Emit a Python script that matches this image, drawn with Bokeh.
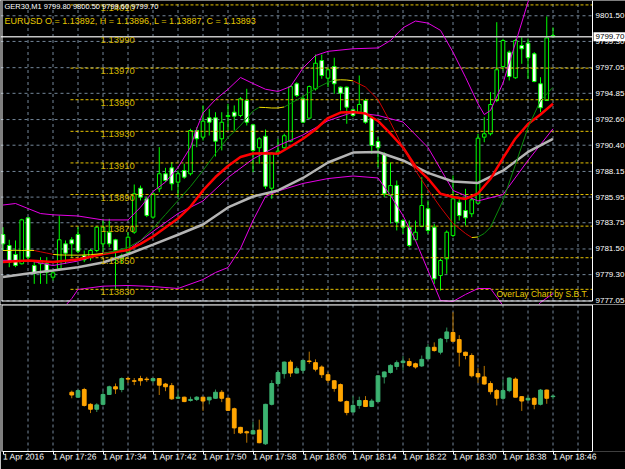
from bokeh.plotting import figure
from bokeh.layouts import column
from bokeh.models import Range1d, FixedTicker, Label
from bokeh.core.properties import value
from bokeh.embed import file_html
from bokeh.resources import INLINE

# ---------------- data ----------------
bars = list(range(89))  # M1 bars, 17:18 .. 18:46
ger_open = [9782.74, 9781.80, 9781.03, 9780.23, 9784.17, 9780.08, 9780.23, 9780.23, 9779.08, 9779.80,
            9781.94, 9782.29, 9782.74, 9780.94, 9780.80, 9781.37, 9781.94, 9782.94, 9782.29, 9780.66,
            9781.22, 9782.94, 9786.71, 9785.80, 9784.23, 9786.66, 9787.95, 9788.46, 9787.23, 9788.23,
            9787.95, 9791.66, 9791.09, 9792.75, 9792.75, 9790.95, 9792.86, 9793.23, 9792.95, 9794.23,
            9792.15, 9790.18, 9791.17, 9786.71, 9789.72, 9790.18, 9790.74, 9795.67, 9794.38, 9792.72,
            9795.24, 9797.66, 9796.15, 9797.15, 9795.38, 9795.38, 9793.44, 9793.23, 9794.23, 9792.75,
            9790.72, 9789.66, 9786.09, 9786.94, 9783.94, 9783.37, 9782.29, 9783.43, 9784.95, 9783.37,
            9779.23, 9780.66, 9782.66, 9785.51, 9784.80, 9784.52, 9785.43, 9791.09, 9791.38, 9794.23,
            9797.15, 9798.38, 9796.18, 9798.95, 9799.15, 9798.24, 9795.67, 9794.23, 9799.80]
ger_high = [9783.37, 9782.29, 9782.23, 9784.09, 9784.23, 9780.51, 9780.80, 9780.80, 9779.66, 9784.37,
            9782.23, 9782.51, 9783.37, 9781.37, 9781.52, 9783.43, 9784.09, 9784.09, 9782.37, 9781.09,
            9782.94, 9787.03, 9786.94, 9785.94, 9786.28, 9790.23, 9788.46, 9788.94, 9788.23, 9788.81,
            9791.81, 9791.95, 9793.81, 9793.52, 9793.23, 9793.23, 9793.95, 9793.81, 9794.52, 9795.24,
            9792.24, 9791.09, 9791.75, 9789.80, 9790.95, 9791.38, 9795.52, 9795.80, 9794.66, 9795.52,
            9798.18, 9798.18, 9797.09, 9797.90, 9795.43, 9795.43, 9793.52, 9796.38, 9794.38, 9792.95,
            9791.09, 9789.80, 9788.92, 9787.37, 9784.09, 9783.94, 9783.94, 9787.66, 9785.66, 9783.66,
            9780.66, 9783.09, 9787.80, 9785.94, 9786.66, 9785.94, 9791.38, 9792.80, 9794.95, 9800.95,
            9799.53, 9798.52, 9799.53, 9799.66, 9799.55, 9798.38, 9796.23, 9801.44, 9800.50]
ger_low = [9781.37, 9779.94, 9779.94, 9780.17, 9780.51, 9778.51, 9778.51, 9778.51, 9778.80, 9779.66,
           9780.23, 9780.80, 9781.14, 9780.37, 9780.51, 9781.22, 9781.22, 9781.65, 9778.09, 9780.23,
           9781.09, 9782.80, 9785.66, 9784.23, 9784.09, 9786.37, 9787.23, 9786.52, 9785.94, 9787.52,
           9787.80, 9790.23, 9790.80, 9791.23, 9789.43, 9789.95, 9791.66, 9791.66, 9792.80, 9792.09,
           9788.09, 9788.81, 9786.66, 9785.80, 9789.52, 9790.09, 9790.66, 9794.52, 9792.29, 9792.66,
           9795.09, 9796.10, 9795.38, 9794.81, 9793.38, 9792.24, 9792.80, 9793.09, 9792.24, 9789.66,
           9788.51, 9785.94, 9783.69, 9783.09, 9782.80, 9781.65, 9782.23, 9783.37, 9782.80, 9778.51,
           9777.94, 9779.37, 9782.51, 9783.94, 9783.51, 9784.23, 9785.38, 9790.66, 9791.23, 9794.09,
           9796.81, 9795.95, 9796.10, 9797.38, 9796.10, 9795.80, 9793.23, 9794.23, 9799.60]
ger_close = [9781.94, 9780.37, 9780.08, 9784.00, 9780.80, 9779.42, 9780.51, 9779.51, 9779.46, 9782.29,
             9781.14, 9781.94, 9781.31, 9780.57, 9781.37, 9783.37, 9783.37, 9781.94, 9781.37, 9780.94,
             9782.51, 9786.23, 9785.94, 9784.37, 9786.23, 9787.95, 9787.37, 9787.09, 9787.95, 9787.66,
             9791.66, 9790.95, 9792.46, 9792.37, 9790.74, 9792.37, 9792.95, 9792.89, 9794.38, 9792.37,
             9789.95, 9790.95, 9786.88, 9789.72, 9789.89, 9791.21, 9795.43, 9794.66, 9792.37, 9795.43,
             9797.43, 9796.38, 9796.87, 9795.67, 9794.86, 9793.66, 9792.95, 9793.89, 9792.37, 9790.38,
             9790.18, 9786.23, 9786.94, 9783.80, 9783.37, 9781.80, 9782.94, 9785.23, 9783.09, 9778.94,
             9780.51, 9782.94, 9785.80, 9784.37, 9784.17, 9785.72, 9791.00, 9791.38, 9793.89, 9796.87,
             9799.38, 9796.29, 9799.38, 9798.67, 9797.90, 9795.86, 9793.61, 9799.60, 9799.70]

# indicator lines (read at sample bars)
ma_red_bars = [0, 4, 8, 12, 16, 20] + list(range(22, 89, 2))
ma_red_vals = [9780.38, 9780.51, 9780.38, 9780.60, 9781.07, 9781.41, 9781.94, 9782.57, 9783.34, 9784.11,
               9785.14, 9786.52, 9787.67, 9788.62, 9789.39, 9789.69, 9789.71, 9789.67, 9790.29, 9790.95,
               9791.75, 9792.73, 9793.20, 9793.25, 9793.12, 9792.48, 9791.40, 9790.20, 9788.57, 9787.54,
               9786.23, 9785.96, 9785.79, 9786.26, 9787.52, 9789.30, 9790.98, 9792.22, 9793.03, 9793.95]
ma_gray_bars = list(range(0, 89, 4))
ma_gray_vals = [9779.10, 9779.40, 9779.65, 9779.93, 9780.34, 9781.05, 9781.88, 9782.72, 9783.60, 9785.06,
                9786.00, 9786.52, 9787.59, 9788.92, 9789.77, 9789.82, 9789.09, 9788.03, 9787.29, 9787.16,
                9788.21, 9789.82, 9790.95]
bb_up_bars = [0, 2, 4, 6, 8, 12, 16, 20, 22, 24, 26, 28, 30, 31, 32, 34, 36, 38, 40, 42, 44, 46, 48, 50,
              52, 56, 60, 62, 64, 66, 68, 70, 72, 74, 76, 77, 78, 80, 82, 84, 86, 88]
bb_up_vals = [9785.27, 9785.40, 9784.97, 9784.54, 9784.43, 9784.33, 9783.99, 9783.99, 9785.08, 9786.43,
              9787.24, 9788.49, 9790.23, 9791.83, 9793.16, 9794.32, 9795.20, 9796.21, 9795.69, 9795.20,
              9795.01, 9795.43, 9797.02, 9798.09, 9798.45, 9798.67, 9798.74, 9799.38, 9800.47, 9801.05,
              9800.87, 9800.25, 9798.38, 9796.23, 9793.95, 9793.03, 9793.38, 9795.73, 9799.17, 9802.68,
              9805.38, 9807.53]
bb_mid_bars = list(range(0, 89, 4))
bb_mid_vals = [9780.53, 9780.51, 9780.08, 9780.47, 9781.11, 9781.41, 9783.00, 9784.54, 9785.62, 9787.63,
               9789.22, 9790.36, 9791.28, 9792.50, 9793.23, 9792.95, 9792.39, 9790.20, 9786.52, 9785.62,
               9786.17, 9789.09, 9791.81]
bb_low_bars = [0, 4, 8, 10, 11, 12, 16, 20, 24, 28, 32, 34, 36, 38, 40, 42, 44, 48, 52, 56, 60] + list(range(62, 89, 2))
bb_low_vals = [9775.80, 9775.54, 9775.71, 9776.65, 9777.25, 9778.03, 9778.31, 9778.37, 9778.28, 9778.11,
               9778.88, 9779.48, 9779.91, 9781.54, 9783.94, 9786.00, 9786.47, 9787.12, 9787.54, 9787.76,
               9787.59, 9786.09, 9784.37, 9782.23, 9779.65, 9777.08, 9777.00, 9777.60, 9778.11, 9778.11,
               9776.65, 9775.80, 9775.80, 9776.91, 9777.68]
thin_bars = list(range(0, 11)) + list(range(12, 41, 2)) + [41, 42, 43, 44, 45, 46, 48, 50, 52, 53, 54, 55, 56,
             58, 60, 62, 64, 66, 68, 70, 72, 74, 75, 76, 77, 78, 80, 82, 84, 86, 88]
thin_vals = [9781.37, 9781.37, 9781.39, 9781.37, 9781.38, 9781.37, 9781.26, 9781.15, 9781.04, 9780.99,
             9780.98, 9780.97, 9781.01, 9781.11, 9781.33, 9781.63, 9782.23, 9783.26, 9784.46, 9785.66,
             9786.86, 9788.23, 9789.69, 9791.06, 9792.09, 9793.33, 9793.65, 9793.63, 9793.59, 9793.59,
             9793.68, 9793.98, 9794.58, 9795.26, 9795.79, 9795.98, 9796.01, 9795.99, 9795.92, 9795.39,
             9794.32, 9792.35, 9790.20, 9788.23, 9786.60, 9785.08, 9783.69, 9782.83, 9782.48, 9782.53,
             9782.83, 9783.37, 9785.66, 9788.75, 9791.92, 9794.23, 9795.37]

eur_levels = [1.14010, 1.13990, 1.13970, 1.13950, 1.13930, 1.13910, 1.13890, 1.13870, 1.13850, 1.13830]
bid_price = 9799.70

eur_bars = list(range(11, 89))
eur_open = [1.13900, 1.13891, 1.13905, 1.13878, 1.13869, 1.13878, 1.13896, 1.13910, 1.13905, 1.13925,
            1.13921, 1.13925, 1.13924, 1.13921, 1.13925, 1.13915, 1.13912, 1.13889, 1.13891, 1.13885,
            1.13887, 1.13891, 1.13886, 1.13889, 1.13900, 1.13889, 1.13870, 1.13836, 1.13828, 1.13824,
            1.13831, 1.13806, 1.13878, 1.13916, 1.13934, 1.13955, 1.13935, 1.13940, 1.13957, 1.13954,
            1.13946, 1.13932, 1.13921, 1.13914, 1.13883, 1.13864, 1.13876, 1.13885, 1.13874, 1.13883,
            1.13928, 1.13936, 1.13947, 1.13954, 1.13956, 1.13952, 1.13948, 1.13961, 1.13982, 1.13973,
            1.13998, 1.14009, 1.13996, 1.13973, 1.13967, 1.13934, 1.13928, 1.13916, 1.13903, 1.13889,
            1.13903, 1.13924, 1.13892, 1.13886, 1.13889, 1.13878, 1.13904, 1.13892]
eur_high = [1.13903, 1.13905, 1.13908, 1.13880, 1.13880, 1.13902, 1.13912, 1.13916, 1.13927, 1.13928,
            1.13926, 1.13930, 1.13928, 1.13925, 1.13925, 1.13917, 1.13917, 1.13903, 1.13892, 1.13892,
            1.13893, 1.13891, 1.13891, 1.13905, 1.13904, 1.13891, 1.13872, 1.13837, 1.13830, 1.13846,
            1.13850, 1.13879, 1.13922, 1.13940, 1.13956, 1.13959, 1.13947, 1.13959, 1.13974, 1.13960,
            1.13949, 1.13937, 1.13922, 1.13916, 1.13885, 1.13893, 1.13892, 1.13893, 1.13888, 1.13931,
            1.13938, 1.13951, 1.13958, 1.13966, 1.13962, 1.13954, 1.13967, 1.13988, 1.13991, 1.13999,
            1.14018, 1.14046, 1.14004, 1.13974, 1.13971, 1.13944, 1.13948, 1.13920, 1.13906, 1.13923,
            1.13927, 1.13927, 1.13893, 1.13894, 1.13891, 1.13906, 1.13905, 1.13896]
eur_low = [1.13889, 1.13890, 1.13874, 1.13862, 1.13864, 1.13876, 1.13895, 1.13897, 1.13900, 1.13917,
           1.13913, 1.13912, 1.13919, 1.13917, 1.13895, 1.13902, 1.13886, 1.13888, 1.13882, 1.13883,
           1.13884, 1.13866, 1.13878, 1.13888, 1.13882, 1.13866, 1.13824, 1.13824, 1.13808, 1.13823,
           1.13807, 1.13804, 1.13876, 1.13910, 1.13925, 1.13928, 1.13934, 1.13934, 1.13952, 1.13938,
           1.13926, 1.13917, 1.13901, 1.13883, 1.13858, 1.13863, 1.13870, 1.13873, 1.13873, 1.13882,
           1.13916, 1.13934, 1.13941, 1.13940, 1.13946, 1.13943, 1.13946, 1.13960, 1.13974, 1.13969,
           1.13991, 1.13993, 1.13947, 1.13960, 1.13927, 1.13917, 1.13914, 1.13896, 1.13876, 1.13886,
           1.13900, 1.13891, 1.13866, 1.13884, 1.13869, 1.13876, 1.13879, 1.13887]
eur_close = [1.13895, 1.13903, 1.13876, 1.13869, 1.13877, 1.13896, 1.13910, 1.13906, 1.13925, 1.13924,
             1.13920, 1.13921, 1.13923, 1.13925, 1.13913, 1.13910, 1.13888, 1.13891, 1.13883, 1.13887,
             1.13891, 1.13884, 1.13891, 1.13900, 1.13889, 1.13867, 1.13835, 1.13826, 1.13826, 1.13830,
             1.13808, 1.13878, 1.13916, 1.13936, 1.13955, 1.13935, 1.13943, 1.13958, 1.13956, 1.13942,
             1.13932, 1.13922, 1.13907, 1.13884, 1.13863, 1.13876, 1.13885, 1.13874, 1.13884, 1.13930,
             1.13937, 1.13949, 1.13954, 1.13957, 1.13949, 1.13946, 1.13960, 1.13982, 1.13976, 1.13997,
             1.14010, 1.13993, 1.13973, 1.13967, 1.13930, 1.13928, 1.13915, 1.13901, 1.13889, 1.13903,
             1.13926, 1.13891, 1.13884, 1.13889, 1.13878, 1.13904, 1.13889, 1.13893]

price_ticks = [9777.05, 9779.30, 9781.50, 9783.75, 9785.95, 9788.15, 9790.40, 9792.60, 9794.85,
               9797.05, 9799.30, 9801.50]
grid_bars = list(range(4, 93, 4))
label_bars = list(range(0, 89, 8))
time_labels = ["1 Apr 2016", "1 Apr 17:26", "1 Apr 17:34", "1 Apr 17:42", "1 Apr 17:50", "1 Apr 17:58",
               "1 Apr 18:06", "1 Apr 18:14", "1 Apr 18:22", "1 Apr 18:30", "1 Apr 18:38", "1 Apr 18:46"]
ger_header = "GER30,M1  9799.80 9800.50 9799.60 9799.70"
eur_header = "EURUSD O = 1.13892, H = 1.13896, L = 1.13887, C = 1.13893"

# ---------------- layout constants (px -> data) ----------------
FONT = "Liberation Sans"
GRID = "#74879a"
LIME = "#00ff00"
MAG = "#e600e6"
YEL = "#e6c200"
PXB = 1 / 6.25                 # bars per pixel
X_LEFT = -0.4                  # canvas x = 0
X_RIGHT = 99.6                 # canvas x = 625
X_EDGE = 94.32                 # chart's right border (px 592)
X_LB = X_LEFT + 1.5 * PXB      # left border (px 1.5)
PPP = 0.08576                  # price units per pixel, main pane
Y_TOP = 9802.81                # canvas y = 0
Y_BOT = Y_TOP - 304 * PPP      # canvas y = 304
Y_BORDER = Y_TOP - 300.5 * PPP  # main pane bottom border

xr = Range1d(X_LEFT, X_RIGHT)

p1 = figure(width=625, height=304, x_range=xr, y_range=Range1d(Y_BOT, Y_TOP),
            output_backend="svg", toolbar_location=None, x_axis_location=None, y_axis_location=None,
            background_fill_color="black", border_fill_color="black",
            min_border_left=0, min_border_right=0, min_border_top=0, min_border_bottom=0)
p1.extra_y_ranges = {"eur": Range1d(1.140128 - 304 / 301 * (1.140128 - 1.138223), 1.140128)}
p1.outline_line_color = None
p1.grid.visible = False

m = len(price_ticks)
g = len(grid_bars)
# grid
p1.segment(x0=grid_bars, y0=[Y_BORDER] * g, x1=grid_bars, y1=[Y_TOP] * g,
           line_color=GRID, line_dash="3 3", line_width=1)
p1.segment(x0=[X_LEFT] * m, y0=price_ticks, x1=[X_EDGE] * m, y1=price_ticks,
           line_color=GRID, line_dash="3 3", line_width=1)

# candles GER30
p1.segment(x0=bars, y0=ger_low, x1=bars, y1=ger_high, line_color=LIME, line_width=1)
bull = [i for i in bars if ger_close[i] >= ger_open[i]]
bear = [i for i in bars if ger_close[i] < ger_open[i]]
p1.vbar(x=bull, width=0.58, top=[ger_close[i] for i in bull], bottom=[ger_open[i] for i in bull],
        fill_color="black", line_color=LIME, line_width=1)
p1.vbar(x=bear, width=0.58, top=[ger_open[i] for i in bear], bottom=[ger_close[i] for i in bear],
        fill_color="white", line_color=LIME, line_width=1)

# overlay levels
n = len(eur_levels)
p1.segment(x0=[10.8] * n, y0=eur_levels, x1=[X_EDGE] * n, y1=eur_levels, y_range_name="eur",
           line_color=YEL, line_dash="3 2", line_width=1)
p1.segment(x0=[X_LEFT], y0=[bid_price], x1=[X_EDGE], y1=[bid_price], line_color="#c4c4c4", line_width=1.5)

# indicators
p1.line(bb_up_bars, bb_up_vals, line_color=MAG, line_width=1)
p1.line(bb_mid_bars, bb_mid_vals, line_color=MAG, line_width=1)
p1.line(bb_low_bars, bb_low_vals, line_color=MAG, line_width=1)
p1.line(ma_gray_bars, ma_gray_vals, line_color="#b4b4b4", line_width=2.5)
p1.line(ma_red_bars, ma_red_vals, line_color="#ff0000", line_width=2.5)

tx0, tx1, ty0, ty1, tc = [], [], [], [], []
for k in range(len(thin_bars) - 1):
    a, b = thin_bars[k], thin_bars[k + 1]
    va, vb = thin_vals[k], thin_vals[k + 1]
    s = (vb - va) / (b - a)
    tx0.append(a); tx1.append(b); ty0.append(va); ty1.append(vb)
    tc.append("#0a8a0a" if s > 0.1 else ("#d00000" if s < -0.1 else "#f0e000"))
p1.segment(x0=tx0, y0=ty0, x1=tx1, y1=ty1, line_color=tc, line_width=1)

p1.text(x=[15.6] * n, y=eur_levels, text=["%.5f" % v for v in eur_levels], y_range_name="eur",
        text_color="#d2b400", text_font=value(FONT), text_font_size="9.5px",
        text_baseline="top", text_align="left")

# pane borders (white)
p1.segment(x0=[X_LB, X_EDGE, X_LB], y0=[Y_BORDER, Y_BORDER, Y_BORDER],
           x1=[X_LB, X_EDGE, X_EDGE], y1=[Y_TOP, Y_TOP, Y_BORDER], line_color="white", line_width=1)

# price scale (right side)
p1.text(x=[X_EDGE + 3 * PXB] * m, y=price_ticks, text=["%.2f" % v for v in price_ticks],
        text_color="white", text_font=value(FONT), text_font_size="8px",
        text_baseline="middle", text_align="left")
p1.text(x=[X_EDGE + 1 * PXB], y=[bid_price], text=["%.2f" % bid_price], text_color="black",
        text_font=value(FONT), text_font_size="8px", text_baseline="middle", text_align="left",
        background_fill_color="white", padding=2)

p1.add_layout(Label(x=0.24, y=9802.30, text=ger_header, text_color="white", text_font=FONT,
                    text_font_size="7.5px", text_baseline="middle"))
p1.add_layout(Label(x=0.24, y=9801.05, text=eur_header, text_color="#e6c800", text_font=FONT,
                    text_font_size="9px", text_baseline="middle"))
p1.add_layout(Label(x=78.96, y=9777.60, text="OverLay Chart by S.B.T.", text_color="#e6c800",
                    text_font=FONT, text_font_size="8.5px", text_baseline="middle"))

# ---------------- bottom pane ----------------
E_TOP = 1.14060
E_BOT = 1.13792
E_BORDER = E_TOP - 0.5 * (E_TOP - E_BOT) / 149
p2 = figure(width=625, height=165, x_range=xr, y_range=Range1d(E_BOT, E_TOP),
            output_backend="svg", toolbar_location=None, y_axis_location=None,
            background_fill_color="black", border_fill_color="black",
            min_border_left=0, min_border_right=0, min_border_top=0, min_border_bottom=16)
p2.outline_line_color = None
p2.grid.visible = False
p2.segment(x0=grid_bars, y0=[E_BOT] * g, x1=grid_bars, y1=[E_TOP] * g,
           line_color=GRID, line_dash="3 3", line_width=1)

xa = p2.xaxis[0]
xa.ticker = FixedTicker(ticks=label_bars)
xa.bounds = (X_LB, X_EDGE)
xa.major_label_overrides = {b: t for b, t in zip(label_bars, time_labels)}
xa.major_label_text_color = "white"
xa.major_label_text_font = FONT
xa.major_label_text_font_size = "8.5px"
xa.major_label_orientation = -0.001
xa.axis_line_color = "white"
xa.major_tick_line_color = "white"
xa.major_tick_out = 3
xa.major_tick_in = 0
xa.minor_tick_line_color = None
xa.major_label_standoff = 2

eb_up = [k for k in range(len(eur_bars)) if eur_close[k] >= eur_open[k]]
eb_dn = [k for k in range(len(eur_bars)) if eur_close[k] < eur_open[k]]
p2.segment(x0=[eur_bars[k] for k in eb_up], y0=[eur_low[k] for k in eb_up],
           x1=[eur_bars[k] for k in eb_up], y1=[eur_high[k] for k in eb_up],
           line_color="#2e8b57", line_width=1)
p2.segment(x0=[eur_bars[k] for k in eb_dn], y0=[eur_low[k] for k in eb_dn],
           x1=[eur_bars[k] for k in eb_dn], y1=[eur_high[k] for k in eb_dn],
           line_color="#b87400", line_width=1)
p2.vbar(x=[eur_bars[k] for k in eb_up], width=0.6, top=[eur_close[k] for k in eb_up],
        bottom=[eur_open[k] for k in eb_up], fill_color="#3cb371", line_color="#3cb371")
p2.vbar(x=[eur_bars[k] for k in eb_dn], width=0.6, top=[eur_open[k] for k in eb_dn],
        bottom=[eur_close[k] for k in eb_dn], fill_color="#ffa500", line_color="#ffa500")
p2.segment(x0=[X_LB, X_EDGE, X_LB], y0=[E_BOT, E_BOT, E_BORDER],
           x1=[X_LB, X_EDGE, X_EDGE], y1=[E_BORDER, E_BORDER, E_BORDER], line_color="white", line_width=1)

layout = column(p1, p2, spacing=0)
open("out.html", "w").write(file_html(layout, INLINE))
